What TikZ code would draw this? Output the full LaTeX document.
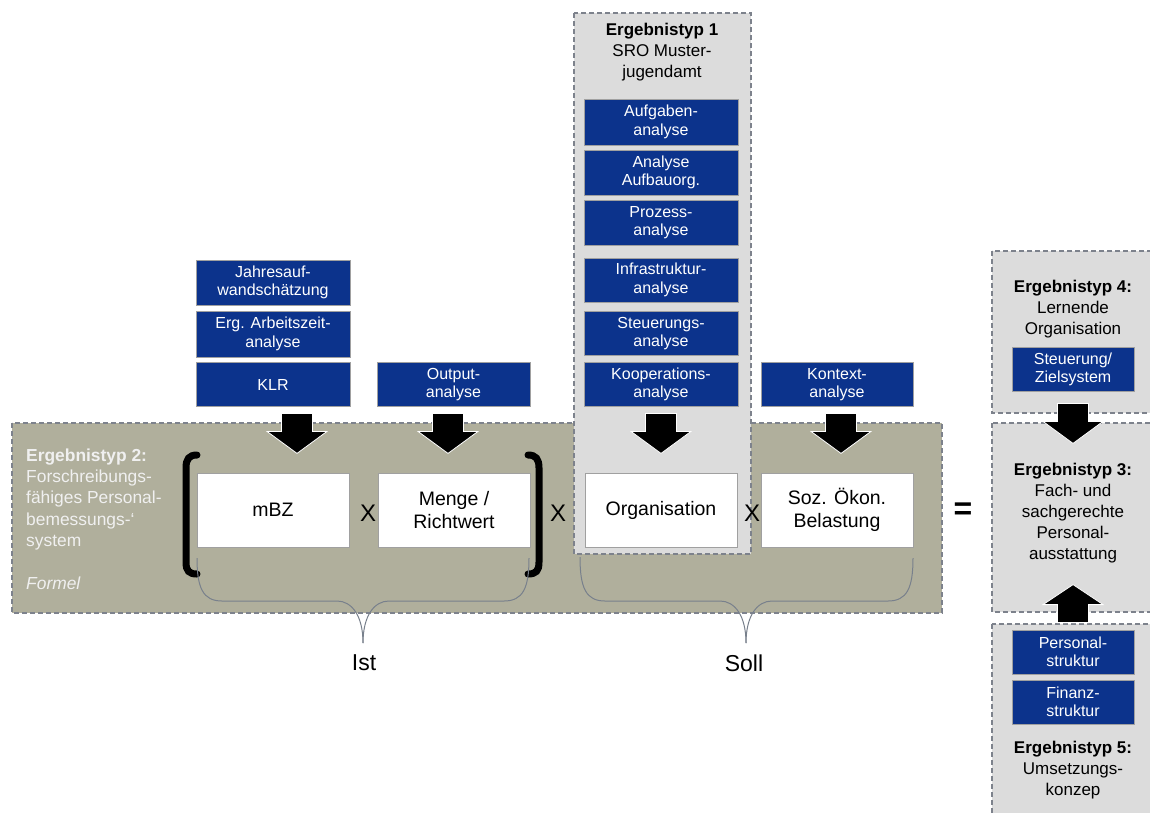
\documentclass[tikz,border=0pt]{standalone}
\usepackage{fontspec}
\setmainfont{Liberation Sans}
\usetikzlibrary{calc}
\definecolor{olivepanel}{RGB}{176,175,156}
\definecolor{lightpanel}{RGB}{220,220,220}
\definecolor{boxblue}{RGB}{12,51,140}
\definecolor{dashgray}{RGB}{125,130,140}
\definecolor{bracegray}{RGB}{120,128,140}
\definecolor{boxedge}{RGB}{160,160,160}
\newcommand\fsz[2]{\fontsize{#1}{#2}\selectfont}
\begin{document}
\begin{tikzpicture}[x=1pt,y=-1pt,
  panel/.style={draw=dashgray, line width=1.5pt, dash pattern=on 5pt off 3pt},
  bluebox/.style={draw=boxedge, line width=0.8pt, fill=boxblue, text=white,
    minimum width=154pt, minimum height=45pt, align=center, inner sep=0pt,
    font=\fsz{16}{18.3}},
  whitebox/.style={draw=boxedge, line width=0.8pt, fill=white,
    minimum width=152pt, minimum height=74pt, align=center, inner sep=0pt,
    font=\fsz{19.5}{23}},
  titletext/.style={align=center, inner sep=0pt, font=\fsz{17}{21.3}},
  optext/.style={inner sep=0pt, font=\fsz{24}{24}},
  bracetext/.style={inner sep=0pt, font=\fsz{23}{23}},
  braceline/.style={draw=bracegray, line width=1pt},
  bracketline/.style={draw=black, line width=7pt, line cap=round},
  pics/downarrow/.style={code={
    \filldraw[fill=black, draw=white, line width=0.8pt]
      (-15.5,0) -- (15.5,0) -- (15.5,18) -- (30,18) -- (0,40) -- (-30,18) -- (-15.5,18) -- cycle;}},
  pics/uparrow/.style={code={
    \filldraw[fill=black, draw=white, line width=0.8pt]
      (-15.5,0) -- (15.5,0) -- (15.5,-18) -- (30,-18) -- (0,-38) -- (-30,-18) -- (-15.5,-18) -- cycle;}}
]
\useasboundingbox (0,0) rectangle (1150,812);

% panels
\draw[panel, fill=olivepanel] (12,423) rectangle (942,613);
\draw[panel, fill=lightpanel] (574,13) rectangle (751,554);
\draw[panel, fill=lightpanel] (992,251) rectangle (1170,413);
\draw[panel, fill=lightpanel] (992,423) rectangle (1170,612);
\draw[panel, fill=lightpanel] (992,624) rectangle (1170,840);

% titles
\node[titletext] (t1) at (662,52) {\textbf{Ergebnistyp 1}\\SRO Muster-\\jugendamt};
\node[anchor=west, align=left, inner sep=0pt, text=white!94!black, font=\fsz{17.4}{21.3}] (t2) at (26,519)
  {\textbf{Ergebnistyp 2:}\\Forschreibungs-\\fähiges Personal-\\bemessungs-‘\\system\\[21.3pt]\textit{Formel}};
\node[titletext] (t4) at (1073,309) {\textbf{Ergebnistyp 4:}\\Lernende\\Organisation};
\node[titletext, font=\fsz{17}{20.8}] (t3) at (1073,513) {\textbf{Ergebnistyp 3:}\\Fach- und\\sachgerechte\\Personal-\\ausstattung};
\node[titletext] (t5) at (1073,770) {\textbf{Ergebnistyp 5:}\\Umsetzungs-\\konzep};

% blue boxes, Ergebnistyp 1
\node[bluebox, minimum height=46pt] (aufg) at (661,122) {Aufgaben-\\analyse};
\node[bluebox] (aufbau) at (661,172.5) {Analyse\\Aufbauorg.};
\node[bluebox] (prozess) at (661,222.5) {Prozess-\\analyse};
\node[bluebox, minimum height=44pt] (infra) at (661,280) {Infrastruktur-\\analyse};
\node[bluebox, minimum height=44pt] (steuer) at (661,333.5) {Steuerungs-\\analyse};
\node[bluebox, minimum height=44pt] (koop) at (661,384.5) {Kooperations-\\analyse};

% blue boxes, left
\node[bluebox] (jahres) at (273,282.5) {Jahresauf-\\wandschätzung};
\node[bluebox, minimum height=46pt] (arbeit) at (273,334) {Erg. Arbeitszeit-\\analyse};
\node[bluebox, minimum height=44pt] (klr) at (273,384.5) {KLR};
\node[bluebox, minimum width=153pt, minimum height=44pt] (output) at (453.5,384.5) {Output-\\analyse};
\node[bluebox, minimum width=152pt, minimum height=44pt] (kontext) at (837,384.5) {Kontext-\\analyse};

% blue boxes, right
\node[bluebox, minimum width=122pt, minimum height=44pt] (ziel) at (1073,369.5) {Steuerung/\\Zielsystem};
\node[bluebox, minimum width=122pt, minimum height=44pt] (personal) at (1073,652) {Personal-\\struktur};
\node[bluebox, minimum width=122pt, minimum height=44pt] (finanz) at (1073,702) {Finanz-\\struktur};

% white boxes
\node[whitebox] (mbz) at (273,510) {mBZ};
\node[whitebox] (menge) at (454,510) {Menge /\\Richtwert};
\node[whitebox] (orga) at (661,510) {Organisation};
\node[whitebox] (soz) at (837,510) {Soz. Ökon.\\Belastung};

% operators
\node[optext] (x1) at (368,513) {X};
\node[optext] (x2) at (558,513) {X};
\node[optext] (x3) at (752,513) {X};
\node[inner sep=0pt, font=\fsz{32}{32}\bfseries] (eq) at (963,511) {=};

% brackets
\draw[bracketline] (197,455) .. controls (189,455) and (186,459) .. (186,468) -- (186,562)
  .. controls (186,571) and (189,574) .. (197,574);
\draw[bracketline] (528,455) .. controls (536,455) and (539,459) .. (539,468) -- (539,562)
  .. controls (539,571) and (536,574) .. (528,574);

% braces
\coordinate (istL) at (197,558);
\coordinate (istR) at (529,558);
\coordinate (istT) at (363,643);
\coordinate (sollL) at (580,557);
\coordinate (sollR) at (913,558);
\coordinate (sollT) at (746,643);
\draw[braceline] (istL) .. controls (197,588) and (203,601) .. (222,601) -- (337,601)
  .. controls (352,601) and (363,616) .. (istT);
\draw[braceline] (istR) .. controls (529,588) and (523,601) .. (504,601) -- (389,601)
  .. controls (374,601) and (363,616) .. (istT);
\draw[braceline] (sollL) .. controls (580,588) and (586,601) .. (605,601) -- (720,601)
  .. controls (735,601) and (746,616) .. (sollT);
\draw[braceline] (sollR) .. controls (913,588) and (907,601) .. (888,601) -- (772,601)
  .. controls (757,601) and (746,616) .. (sollT);
\node[bracetext] (ist) at (364,663) {Ist};
\node[bracetext] (soll) at (744,663) {Soll};

% block arrows
\pic at ($(klr.south)+(24,6.5)$) {downarrow};
\pic at ($(output.south)+(-5.5,6.5)$) {downarrow};
\pic at ($(koop.south)+(0,6.5)$) {downarrow};
\pic at ($(kontext.south)+(4,6.5)$) {downarrow};
\pic at ($(ziel.south)+(0,11.5)$) {downarrow};
\pic at ($(personal.north)+(0,-7)$) {uparrow};
\end{tikzpicture}
\end{document}
